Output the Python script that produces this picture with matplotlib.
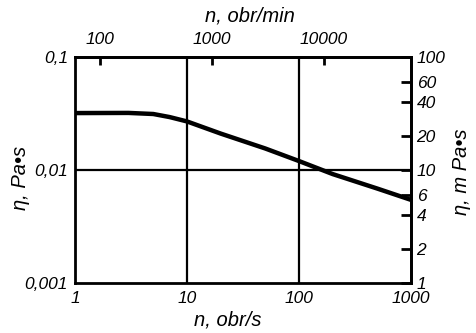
import matplotlib
matplotlib.use("Agg")
import matplotlib.pyplot as plt
from matplotlib.ticker import FixedLocator, NullLocator, FixedFormatter

# Viscosity vs rotation speed (log-log)
speed_rps = [1, 3, 5, 7, 10, 20, 50, 100, 200, 500, 1000]
viscosity_pas = [0.0319, 0.0320, 0.0313, 0.0294, 0.0269, 0.0210, 0.0155, 0.0120, 0.0092, 0.00685, 0.00544]

bottom_ticks = [1, 10, 100, 1000]
bottom_labels = ["1", "10", "100", "1000"]
left_ticks = [0.001, 0.01, 0.1]
left_labels = ["0,001", "0,01", "0,1"]
top_ticks = [100, 1000, 10000]
top_labels = ["100", "1000", "10000"]
right_ticks = [1, 2, 4, 6, 10, 20, 40, 60, 100]
right_labels = ["1", "2", "4", "6", "10", "20", "40", "60", "100"]

plt.rcParams["font.family"] = ["Liberation Sans", "DejaVu Sans"]
plt.rcParams["font.style"] = "italic"
plt.rcParams["font.size"] = 12.5

W, H = 477, 333
fig = plt.figure(figsize=(W / 100, H / 100), dpi=100)
ax = fig.add_axes([75 / W, 1 - 283 / H, (411 - 75) / W, (283 - 57) / H])
ax.set_xscale("log")
ax.set_yscale("log")
ax.set_xlim(1, 1000)
ax.set_ylim(0.001, 0.1)

for s in ax.spines.values():
    s.set_linewidth(2)

ax.axvline(10, color="black", lw=1.6)
ax.axvline(100, color="black", lw=1.6)
ax.axhline(0.01, color="black", lw=1.6)

ax.plot(speed_rps, viscosity_pas, color="black", lw=3.2, solid_capstyle="butt")

ax.xaxis.set_major_locator(FixedLocator(bottom_ticks))
ax.xaxis.set_major_formatter(FixedFormatter(bottom_labels))
ax.xaxis.set_minor_locator(NullLocator())
ax.yaxis.set_major_locator(FixedLocator(left_ticks))
ax.yaxis.set_major_formatter(FixedFormatter(left_labels))
ax.yaxis.set_minor_locator(NullLocator())
ax.tick_params(axis="both", length=0, pad=5)
ax.tick_params(axis="x", pad=6)

top = ax.secondary_xaxis("top", functions=(lambda x: x * 60, lambda x: x / 60))
top.xaxis.set_major_locator(FixedLocator(top_ticks))
top.xaxis.set_major_formatter(FixedFormatter(top_labels))
top.xaxis.set_minor_locator(NullLocator())
top.tick_params(direction="in", length=6, width=2, pad=7)
top.spines["top"].set_linewidth(2)

right = ax.secondary_yaxis("right", functions=(lambda y: y * 1000, lambda y: y / 1000))
right.yaxis.set_major_locator(FixedLocator(right_ticks))
right.yaxis.set_major_formatter(FixedFormatter(right_labels))
right.yaxis.set_minor_locator(NullLocator())
right.tick_params(direction="in", length=7, width=2, pad=4)
right.spines["right"].set_linewidth(2)

# Axis titles
label_size = 14.5
fig.text(250 / W, 1 - 16 / H, "n, obr/min", ha="center", va="center", fontsize=label_size)
fig.text(228 / W, 1 - 320 / H, "n, obr/s", ha="center", va="center", fontsize=label_size)
fig.text(20 / W, 1 - 178 / H, "η, Pa•s", ha="center", va="center", rotation=90, fontsize=label_size)
fig.text(462 / W, 1 - 172 / H, "η, m Pa•s", ha="center", va="center", rotation=90, fontsize=label_size)

fig.savefig("out.png", dpi=100)
